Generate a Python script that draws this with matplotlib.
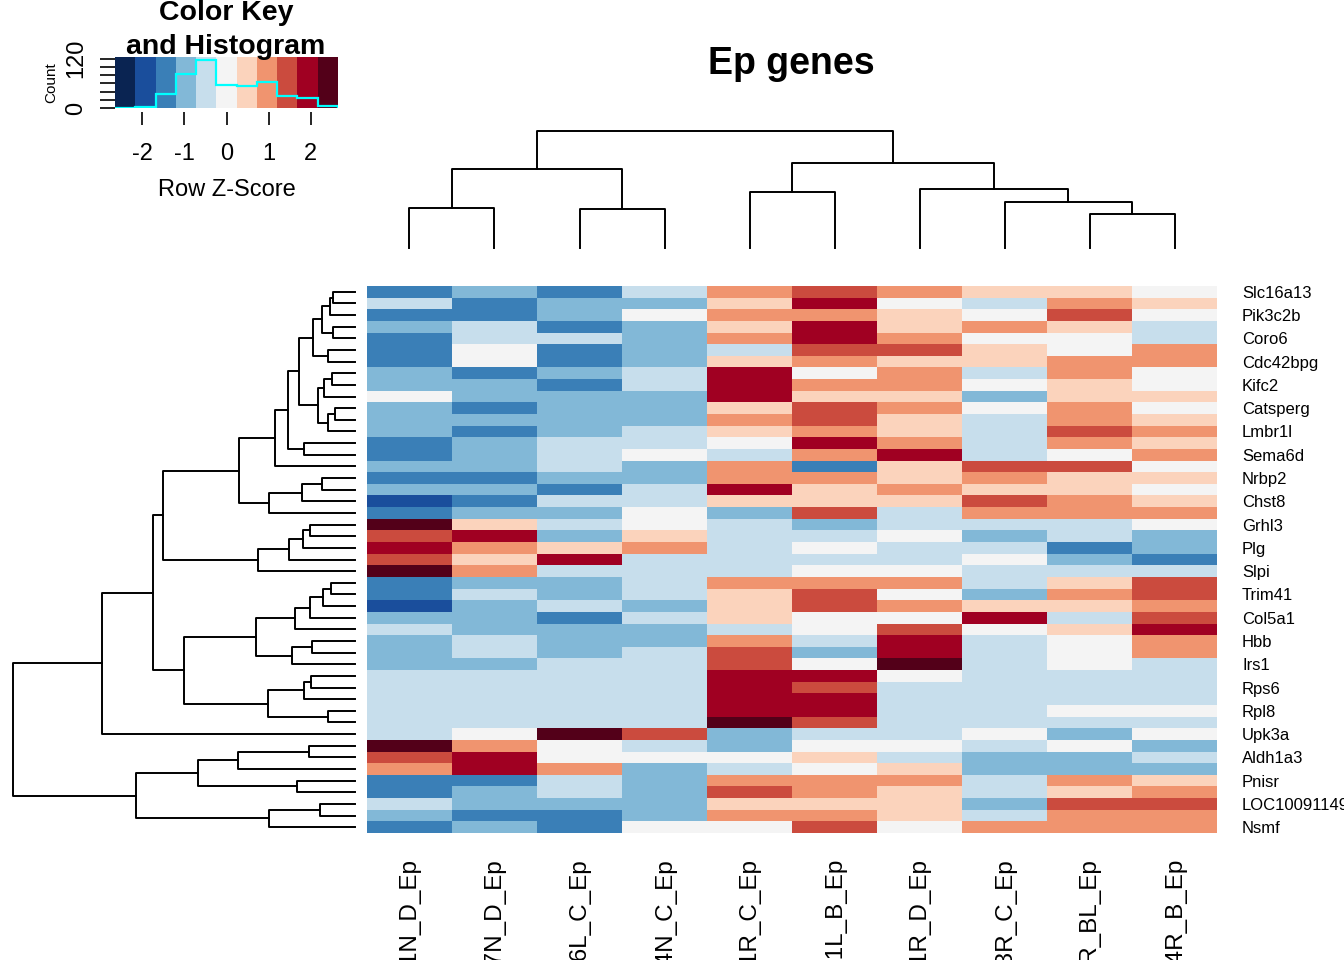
import numpy as np
import matplotlib
matplotlib.use("Agg")
import matplotlib.pyplot as plt
from matplotlib.colors import ListedColormap, BoundaryNorm

W, H = 1344, 960
plt.rcParams["font.family"] = ["Liberation Sans", "DejaVu Sans"]
plt.rcParams["axes.unicode_minus"] = False

# colour level (0..10, 'a' = 10) of every cell, rows in displayed order
cell_levels = [
    "2324787665", "4233695476", "2235776585", "3423696764", "2443797554",
    "2523488657", "2523676677", "3234957475", "3324977565", "5333966366",
    "3233687575", "3333786476", "3234676487", "2344597476", "2345479457",
    "3343726885", "2233776766", "3324967665", "1244666876", "2335384777",
    "a645434445", "8936445343", "9767454423", "8694444532", "a744455444",
    "2334777468", "2434685378", "1343687667", "3324655948", "4333458569",
    "3433749457", "3434839457", "334485a454", "4444995444", "4444984444",
    "4444994444", "4444994455", "4444a84444", "45a8344535", "a754355453",
    "8955564334", "7973456333", "2243777476", "2343876467", "4333666388",
    "3223776477", "2325585777",
]

row_labels = [
    "Slc16a13", "Pik3c2b", "Coro6", "Cdc42bpg", "Kifc2", "Catsperg", "Lmbr1l",
    "Sema6d", "Nrbp2", "Chst8", "Grhl3", "Plg", "Slpi", "Trim41", "Col5a1",
    "Hbb", "Irs1", "Rps6", "Rpl8", "Upk3a", "Aldh1a3", "Pnisr",
    "LOC100911498", "Nsmf",
]
col_labels = [
    "P11N_D_Ep", "P17N_D_Ep", "P16L_C_Ep", "P14N_C_Ep", "P11R_C_Ep",
    "P21L_B_Ep", "P11R_D_Ep", "P13R_C_Ep", "P12R_BL_Ep", "P14R_B_Ep",
]

# row dendrogram merges (leaf ids 0..46, new nodes 47..)
row_left = [0, 47, 3, 48, 5, 50, 7, 53, 10, 55, 54, 52, 13, 58, 60, 16, 62, 63,
            61, 20, 66, 67, 68, 65, 25, 71, 72, 73, 30, 75, 74, 33, 78, 36, 79,
            77, 70, 83, 39, 85, 42, 86, 44, 89, 88, 84]
row_right = [1, 2, 4, 49, 6, 51, 8, 9, 11, 12, 56, 57, 14, 59, 15, 17, 18, 19,
             64, 21, 22, 23, 24, 69, 26, 27, 28, 29, 31, 32, 76, 34, 35, 37, 80,
             81, 82, 38, 40, 41, 43, 87, 45, 46, 90, 91]
row_height = [22, 25, 22, 33, 27, 42, 23, 31, 20, 27, 37, 56, 51, 67, 80, 33, 53,
              86, 116, 45, 52, 66, 97, 192, 24, 32, 45, 60, 43, 63, 99, 44, 51,
              27, 87, 171, 202, 253, 46, 117, 58, 157, 35, 86, 219, 342]

# column dendrogram merges (leaf ids 0..9, new nodes 10..)
col_left = [0, 2, 10, 4, 8, 7, 6, 13, 12]
col_right = [1, 3, 11, 5, 9, 14, 15, 16, 17]
col_height = [40, 39, 79, 56, 34, 46, 59, 85, 117]

key_colors = ["#0A2452", "#1A4E9C", "#3A7FB7", "#82B8D7", "#C7DEEC", "#F4F4F4",
              "#FBD3BC", "#F0946F", "#CB4B3E", "#A00022", "#530019"]
z_lim = 2.65

breaks = np.linspace(-z_lim, z_lim, len(key_colors) + 1)
levels = np.array([[int(c, 16) for c in row] for row in cell_levels])
z = (breaks[:-1] + breaks[1:])[levels] / 2
cmap = ListedColormap(key_colors)
norm = BoundaryNorm(breaks, cmap.N)
n_rows, n_cols = z.shape

fig = plt.figure(figsize=(W / 100, H / 100), dpi=100)


def px_axes(x0, y0, x1, y1):
    return fig.add_axes([x0 / W, 1 - y1 / H, (x1 - x0) / W, (y1 - y0) / H])


def draw_dendro(ax, n, left, right, height, vertical):
    pos = list(np.arange(n) + 0.5)
    hgt = [0.0] * n
    for a, b, h in zip(left, right, height):
        xs = [pos[a], pos[a], pos[b], pos[b]]
        ys = [hgt[a], h, h, hgt[b]]
        if vertical:
            ax.plot(xs, ys, color="black", lw=1.4, clip_on=False)
        else:
            ax.plot(ys, xs, color="black", lw=1.4, clip_on=False)
        pos.append((pos[a] + pos[b]) / 2)
        hgt.append(h)
    ax.axis("off")


# heatmap
ax = px_axes(367, 286, 1217, 833)
ax.pcolormesh(np.arange(n_cols + 1), np.arange(n_rows + 1), z, cmap=cmap, norm=norm)
ax.set_xlim(0, n_cols)
ax.set_ylim(n_rows, 0)
for s in ax.spines.values():
    s.set_visible(False)
ax.yaxis.tick_right()
ax.set_yticks(np.arange(0, n_rows, 2) + 0.5, row_labels, fontsize=12)
ax.set_xticks(np.arange(n_cols) + 0.5, col_labels, rotation=90, fontsize=17.5)
ax.tick_params(axis="y", length=0, pad=18)
ax.tick_params(axis="x", length=0, pad=18)

# dendrograms
ax_r = px_axes(13, 286, 355, 833)
ax_r.set_xlim(max(row_height), 0)
ax_r.set_ylim(n_rows, 0)
draw_dendro(ax_r, n_rows, row_left, row_right, row_height, vertical=False)

ax_c = px_axes(367, 131, 1217, 248)
ax_c.set_xlim(0, n_cols)
ax_c.set_ylim(0, max(col_height))
draw_dendro(ax_c, n_cols, col_left, col_right, col_height, vertical=True)

# colour key with histogram
counts, _ = np.histogram(z.ravel(), bins=breaks)
ax_k = px_axes(115, 57, 338, 108)
ax_k.pcolormesh(breaks, [0, 124], ((breaks[:-1] + breaks[1:]) / 2)[None, :],
                cmap=cmap, norm=norm)
ax_k.stairs(counts, breaks, color="cyan", lw=1.6)
ax_k.set_xlim(-z_lim, z_lim)
ax_k.set_ylim(0, 124)
for s in ax_k.spines.values():
    s.set_visible(False)
ax_k.spines["bottom"].set_position(("outward", 3))
ax_k.set_xticks([-2, -1, 0, 1, 2], ["-2", "-1", "0", "1", "2"], fontsize=17)
ax_k.set_yticks(range(0, 121, 20), ["0", "", "", "", "", "", "120"],
                fontsize=17, rotation=90, va="center")
ax_k.tick_params(axis="x", length=9.5, width=1.2, pad=13)
ax_k.tick_params(axis="y", length=11, width=1.2, pad=9)
ax_k.set_xlabel("Row Z-Score", fontsize=17, labelpad=10)
ax_k.set_ylabel("Count", fontsize=11, labelpad=5)

fig.text(226 / W, 1 - 30 / H, "Color Key\nand Histogram", fontsize=20.5,
         fontweight="bold", ha="center", va="center", linespacing=1.35)
fig.text(791 / W, 1 - 64 / H, "Ep genes", fontsize=27, fontweight="bold",
         ha="center", va="center")

fig.savefig("out.png", dpi=100)
